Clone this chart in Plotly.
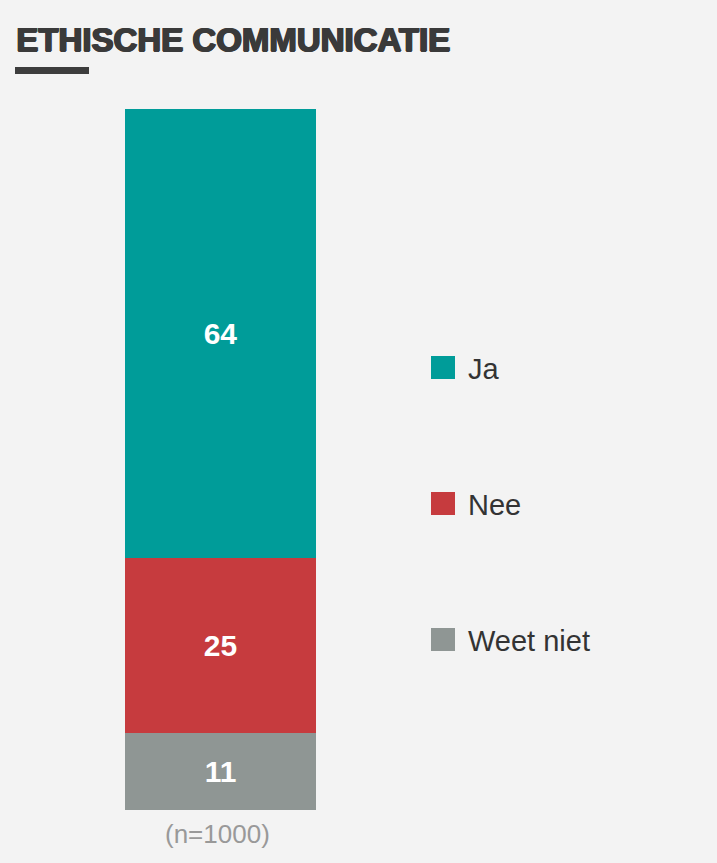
import plotly.graph_objects as go

W, H = 717, 863

categories = ["Ja", "Nee", "Weet niet"]
values = [64, 25, 11]
colors = ["#009c99", "#c63b3e", "#8f9694"]
sample_label = "(n=1000)"
title_text = "ETHISCHE COMMUNICATIE"

fig = go.Figure()
# stack from bottom: reverse order so "Ja" is on top
for cat, val, col in reversed(list(zip(categories, values, colors))):
    fig.add_trace(go.Bar(
        x=[0], y=[val], name=cat, width=1,
        marker=dict(color=col, line=dict(width=0)),
        text=[str(val)], textposition="inside", insidetextanchor="middle",
        textfont=dict(family="Liberation Sans, Arial, sans-serif", size=30, color="white", weight="bold"),
        showlegend=False, hoverinfo="skip",
    ))

def py(pix):
    return 1 - pix / H

def px(pix):
    return pix / W

shapes = []
annotations = []

# title and underline
annotations.append(dict(
    text=title_text, xref="paper", yref="paper", x=px(14), y=py(40),
    xanchor="left", yanchor="middle", showarrow=False,
    font=dict(family="Liberation Sans, Arial, sans-serif", size=33, color="#3a3a3a", weight="bold",
              shadow="1.3px 0 0 #3a3a3a, -0.6px 0 0 #3a3a3a, 0 0.8px 0 #3a3a3a, 0.6px 0.6px 0 #3a3a3a"),
))
shapes.append(dict(type="rect", xref="paper", yref="paper",
                   x0=px(15), x1=px(89), y0=py(74), y1=py(67),
                   fillcolor="#3d3d3d", line=dict(width=0)))

# custom legend
leg_top = 367.5
leg_gap = 136
for i, (cat, col) in enumerate(zip(categories, colors)):
    cy = leg_top + i * leg_gap
    shapes.append(dict(type="rect", xref="paper", yref="paper",
                       x0=px(431), x1=px(455), y0=py(cy + 11.5), y1=py(cy - 11.5),
                       fillcolor=col, line=dict(width=0)))
    annotations.append(dict(
        text=cat, xref="paper", yref="paper", x=px(466), y=py(cy + 1),
        xanchor="left", yanchor="middle", showarrow=False,
        font=dict(family="Liberation Sans, Arial, sans-serif", size=29, color="#333333"),
    ))

# sample size label
annotations.append(dict(
    text=sample_label, xref="paper", yref="paper", x=px(217), y=py(834),
    xanchor="center", yanchor="middle", showarrow=False,
    font=dict(family="Liberation Sans, Arial, sans-serif", size=26, color="#999999"),
))

fig.update_layout(
    width=W, height=H,
    margin=dict(l=0, r=0, t=0, b=0),
    paper_bgcolor="#f3f3f3", plot_bgcolor="#f3f3f3",
    barmode="stack", bargap=0,
    xaxis=dict(domain=[px(125), px(316)], range=[-0.5, 0.5], visible=False, fixedrange=True),
    yaxis=dict(domain=[py(810), py(109)], range=[0, 100], visible=False, fixedrange=True),
    shapes=shapes, annotations=annotations,
    uniformtext=dict(mode="show", minsize=10),
)

fig.write_html("out.html", config={"displayModeBar": False},
               post_script="document.body.style.margin='0';document.body.style.background='#f3f3f3';")
